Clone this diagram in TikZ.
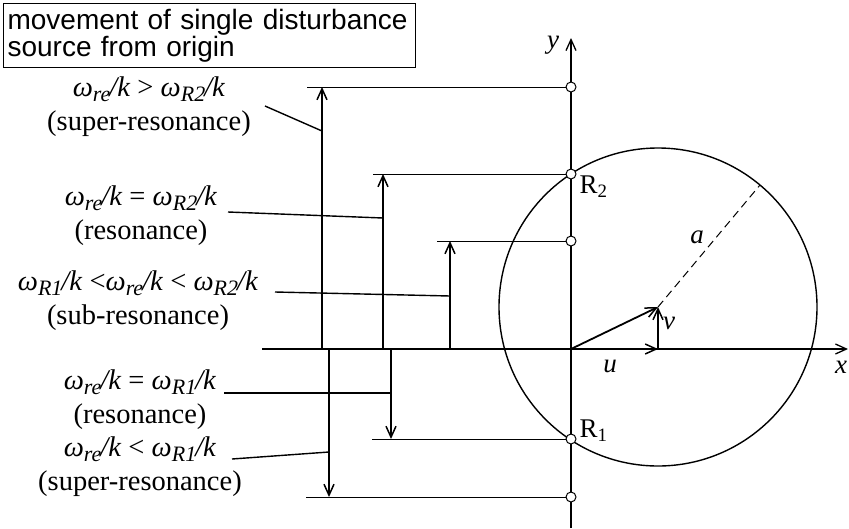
\documentclass[tikz,border=0pt]{standalone}
\usepackage{fontspec}
\setmainfont{Liberation Serif}
\newfontfamily\boxfont{Liberation Sans}
\usetikzlibrary{arrows.meta, positioning, calc}

\newcommand{\wk}[1]{\textit{ω}\raisebox{-5pt}{\fontsize{22}{22}\selectfont\textit{#1}}\kern-1pt\textit{/k}}

\tikzset{
    axis/.style={line width=1.3pt},
    marker/.style={circle, draw, fill=white, line width=1pt, minimum size=10pt, inner sep=0pt},
    level/.style={line width=1pt},
    move/.style={line width=1.8pt, -{Straight Barb[length=11pt, width=10pt, line width=1.5pt]}},
    pointer/.style={line width=1.4pt},
    case/.style={align=center, font=\fontsize{28.5}{34}\selectfont, inner sep=0pt},
    lbl/.style={font=\fontsize{27}{30}\selectfont, inner sep=0pt}
}

\begin{document}
\begin{tikzpicture}[x=1pt, y=-1pt]
    \useasboundingbox (0,0) rectangle (849,528);

    % axes and circle
    \draw[axis, -{Straight Barb[length=11pt, width=10pt, line width=1.3pt]}] (262,349) -- (848,349);
    \draw[axis, -{Straight Barb[length=11pt, width=10pt, line width=1.3pt]}] (571,528) -- (571,38);
    \coordinate (O) at (571,349);
    \coordinate (C) at (658,307);
    \draw[line width=1.4pt] (C) circle (159);
    \draw[line width=1pt, dashed, dash pattern=on 8pt off 5pt] (C) -- (760,185);
    \node[lbl] at (553,45) {\textit{y}};
    \node[lbl] at (841,367) {\textit{x}};
    \node[lbl] at (697,237) {\textit{a}};

    % velocity of the source
    \draw[move] (O) -- (658,349) coordinate (U);
    \draw[move] (U) -- (C);
    \draw[move] (O) -- (C);
    \node[lbl] at (610,366) {\textit{u}};
    \node[lbl] at (669,323) {\textit{v}};

    % points on the y axis
    \node[marker] (m1) at (571,87) {};
    \node[marker] (R2) at (571,174) {};
    \node[marker] (m3) at (571,241) {};
    \node[marker] (R1) at (571,439) {};
    \node[marker] (m5) at (571,497) {};
    \node[lbl, right=3pt of R2, yshift=-13pt] {R\textsubscript{2}};
    \node[lbl, right=3pt of R1, yshift=8pt] {R\textsubscript{1}};

    % level lines and movements
    \foreach \lx/\ax/\m in {307/322/m1, 373/383/R2, 437/450/m3, 372/391/R1, 306/329/m5} {
        \draw[level] (\lx,0 |- \m) -- (\m);
        \draw[move] (\ax,349) -- (\ax,0 |- \m);
    }

    % cases
    \node[case] (c1) at (149,107) {\wk{re} > \wk{R2}\\(super-resonance)};
    \node[case] (c2) at (141,216) {\wk{re} = \wk{R2}\\(resonance)};
    \node[case] (c3) at (138,301) {\wk{R1} <\wk{re} < \wk{R2}\\(sub-resonance)};
    \node[case] (c4) at (140,400) {\wk{re} = \wk{R1}\\(resonance)};
    \node[case] (c5) at (140,467) {\wk{re} < \wk{R1}\\(super-resonance)};
    \coordinate (p1) at (322,131);
    \coordinate (p2) at (383,218);
    \coordinate (p3) at (450,296);
    \coordinate (p4) at (391,393);
    \coordinate (p5) at (329,452);
    \draw[pointer] (265,106) -- (p1);
    \draw[pointer] (228,212) -- (p2);
    \draw[pointer] (275,292) -- (p3);
    \draw[pointer] (224,393) -- (p4);
    \draw[pointer] (232,459) -- (p5);

    \node[draw, line width=1.2pt, anchor=north west, inner xsep=4pt, inner ysep=0pt,
          text width=404pt, minimum height=64pt, align=left,
          font=\boxfont\fontsize{28}{25}\selectfont] (title) at (3,3)
          {\hyphenpenalty=10000 movement of single disturbance\\source from origin};
\end{tikzpicture}
\end{document}
